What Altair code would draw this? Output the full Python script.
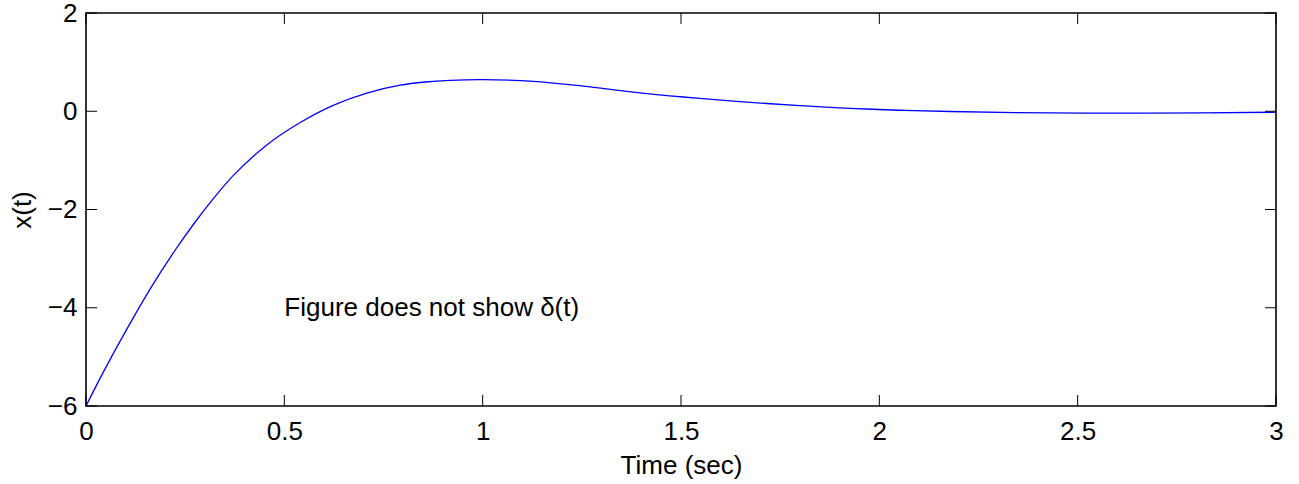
import altair as alt
import pandas as pd

# values
time_s = [0, 0.045, 0.104, 0.163, 0.222, 0.272, 0.318, 0.371, 0.455, 0.539, 0.623,
          0.708, 0.792, 0.855, 0.918, 1.0, 1.128, 1.254, 1.38, 1.506, 1.632, 1.80, 1.926,
          2.05, 2.178, 2.43, 2.68, 3.0]
x_vals = [-6, -5.29, -4.42, -3.60, -2.86, -2.29, -1.81, -1.31, -0.69, -0.235, 0.12,
          0.37, 0.53, 0.595, 0.63, 0.645, 0.61, 0.51, 0.39, 0.29, 0.205, 0.115, 0.06,
          0.02, -0.005, -0.035, -0.04, -0.02]
x_ticks = [0, 0.5, 1, 1.5, 2, 2.5, 3]
y_ticks = [-6, -4, -2, 0, 2]
note_text = ["Figure does not show δ(t)"]
note_t = [0.5]
note_y = [-4]

W, H = 1190, 393
FONT = "Liberation Sans"
FS = 26

df = pd.DataFrame({"t": time_s, "x": x_vals})
xt = pd.DataFrame({"t": x_ticks})
yt = pd.DataFrame({"x": y_ticks})
nt = pd.DataFrame({"t": note_t, "x": note_y, "label": note_text})

xscale = alt.Scale(domain=[0, 3], nice=False, zero=False)
yscale = alt.Scale(domain=[-6, 2], nice=False, zero=False)

line = alt.Chart(df).mark_line(color="#0000FF", strokeWidth=1.3, interpolate="catmull-rom").encode(
    x=alt.X("t:Q", scale=xscale, title="Time (sec)",
            axis=alt.Axis(values=x_ticks, format="~g", tickSize=0, domain=False, grid=False,
                          labelPadding=12, labelFontSize=FS, labelFont=FONT,
                          labelColor="black", titleFont=FONT,
                          titleFontSize=FS, titleFontWeight="normal", titleColor="black",
                          titleX=W / 2, titleY=67, titleBaseline="alphabetic",
                          labelFlush=False, labelOverlap=False)),
    y=alt.Y("x:Q", scale=yscale, title="x(t)",
            axis=alt.Axis(values=y_ticks, format="~g", tickSize=0, domain=False, grid=False,
                          labelPadding=9, labelFontSize=FS, labelFont=FONT,
                          labelColor="black", titleFont=FONT,
                          titleFontSize=FS, titleFontWeight="normal", titleColor="black",
                          titleX=-64, titleY=H / 2, titleAngle=-90, titleAlign="center",
                          titleBaseline="middle", labelFlush=False, labelOverlap=False)),
)

TL = 11
xb = alt.Chart(xt).mark_rule(color="black", strokeWidth=1).encode(
    x=alt.X("t:Q", scale=xscale), y=alt.value(H), y2=alt.value(H - TL))
xtop = alt.Chart(xt).mark_rule(color="black", strokeWidth=1).encode(
    x=alt.X("t:Q", scale=xscale), y=alt.value(0), y2=alt.value(TL))
yl = alt.Chart(yt).mark_rule(color="black", strokeWidth=1).encode(
    y=alt.Y("x:Q", scale=yscale), x=alt.value(0), x2=alt.value(TL))
yr = alt.Chart(yt).mark_rule(color="black", strokeWidth=1).encode(
    y=alt.Y("x:Q", scale=yscale), x=alt.value(W), x2=alt.value(W - TL))

note = alt.Chart(nt).mark_text(align="left", baseline="middle", font=FONT,
                               fontSize=FS, color="black").encode(
    x=alt.X("t:Q", scale=xscale),
    y=alt.Y("x:Q", scale=yscale),
    text="label:N")

chart = alt.layer(line, xb, xtop, yl, yr, note).properties(
    width=W, height=H,
    autosize=alt.AutoSizeParams(type="none"),
    padding={"left": 86, "top": 13, "right": 23, "bottom": 78},
    background="white",
).configure_view(stroke="black", strokeWidth=1.6)

chart.save("out.html", embed_options={"renderer": "svg", "actions": False})
